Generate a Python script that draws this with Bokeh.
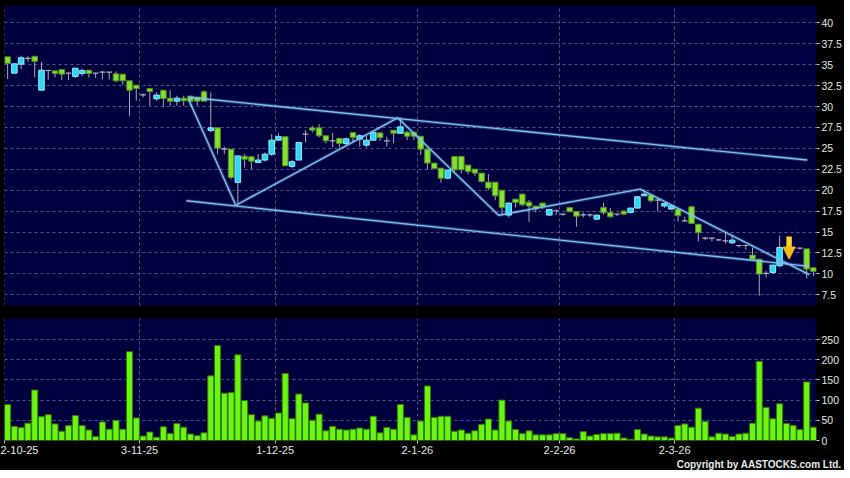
from bokeh.plotting import figure
from bokeh.layouts import column
from bokeh.models import (ColumnDataSource, Range1d, FixedTicker, Grid, Title,
                          NumeralTickFormatter, Arrow, NormalHead)
from bokeh.embed import file_html
from bokeh.resources import INLINE

# ---------------- data ----------------
opens = [35.94, 33.98, 35.06, 35.74, 36.0, 31.95, 34.3, 34.26, 34.42, 34.0,
         33.6, 33.94, 34.34, 34.0, 34.1, 34.1, 33.9, 33.86, 33.07, 32.55,
         31.4, 32.15, 30.92, 31.95, 31.0, 30.64, 31.0, 31.24, 31.12, 31.76,
         27.13, 27.45, 24.9, 24.9, 20.93, 24.06, 23.99, 23.3, 23.6, 24.3,
         25.98, 26.4, 22.84, 23.6, 26.7, 27.45, 27.45, 26.5, 25.9, 26.2,
         25.58, 26.9, 26.1, 25.38, 25.98, 26.85, 25.9, 27.17, 26.8, 26.93,
         26.93, 26.45, 24.9, 23.24, 22.64, 21.44, 24.03, 24.03, 23.0, 22.52,
         22.04, 20.96, 20.96, 20.0, 17.02, 18.93, 19.53, 18.57, 18.1, 18.46,
         17.02, 17.54, 17.14, 17.94, 17.46, 17.06, 17.06, 16.54, 17.94, 17.34,
         17.14, 17.5, 17.34, 17.86, 19.33, 19.41, 18.81, 18.1, 17.74, 17.74,
         16.34, 18.02, 15.94, 14.27, 14.27, 14.07, 13.95, 13.71, 13.39, 13.39,
         12.24, 11.76, 10.05, 10.17, 10.97, 13.15, 13.1, 13.07, 12.99, 10.73]
highs = [35.94, 35.1, 36.06, 36.0, 36.0, 35.34, 34.4, 34.26, 34.42, 34.02,
         34.6, 34.54, 34.34, 34.0, 34.26, 34.1, 34.18, 33.86, 33.07, 32.55,
         31.55, 32.15, 31.7, 31.95, 31.95, 31.28, 31.28, 31.24, 31.12, 31.95,
         31.67, 27.45, 25.2, 24.9, 24.1, 24.3, 24.1, 24.3, 24.5, 26.7,
         26.8, 26.4, 23.6, 25.7, 27.17, 27.7, 27.9, 26.5, 26.85, 26.2,
         26.3, 26.9, 26.7, 26.5, 27.0, 26.85, 26.4, 27.17, 28.7, 27.1,
         27.0, 26.45, 24.9, 23.24, 22.64, 22.4, 24.03, 24.03, 23.0, 22.52,
         22.04, 21.92, 20.96, 20.0, 18.5, 18.93, 19.53, 18.81, 18.1, 18.46,
         17.7, 17.7, 17.14, 17.94, 17.46, 17.34, 17.2, 17.02, 18.5, 17.86,
         17.14, 17.62, 17.9, 19.3, 20.1, 19.41, 19.05, 18.5, 18.2, 17.74,
         16.82, 18.14, 15.94, 14.43, 14.27, 14.2, 14.95, 14.55, 13.39, 13.39,
         13.15, 11.76, 10.37, 11.05, 14.55, 13.3, 13.2, 13.1, 12.99, 10.73]
lows = [33.27, 33.98, 34.46, 35.34, 33.5, 31.95, 33.2, 33.47, 33.15, 33.15,
        33.4, 33.63, 33.47, 33.4, 33.23, 33.23, 32.9, 32.6, 28.88, 30.68,
        31.08, 30.08, 30.68, 29.96, 30.08, 30.08, 30.08, 30.08, 30.1, 30.64,
        26.9, 24.3, 24.3, 21.3, 18.2, 22.7, 22.5, 23.3, 23.4, 24.1,
        25.9, 22.92, 22.6, 23.6, 25.7, 26.9, 26.3, 25.6, 25.1, 25.1,
        25.4, 25.7, 25.2, 25.1, 25.9, 25.9, 25.2, 25.6, 26.8, 25.98,
        25.98, 24.2, 22.5, 22.5, 20.9, 21.3, 22.24, 22.0, 21.92, 21.72,
        20.9, 20.0, 18.81, 17.02, 16.74, 17.94, 18.1, 16.22, 17.34, 17.74,
        16.94, 17.02, 16.9, 17.42, 15.63, 16.74, 16.8, 16.5, 17.06, 16.74,
        16.9, 17.0, 17.2, 17.86, 19.3, 18.53, 17.46, 17.9, 17.7, 16.26,
        16.26, 15.98, 13.87, 14.03, 13.87, 13.9, 13.63, 13.55, 13.15, 12.9,
        11.76, 7.38, 9.57, 9.97, 10.8, 13.0, 12.95, 12.9, 9.45, 9.77]
closes = [35.14, 35.1, 35.82, 35.74, 35.4, 34.34, 34.3, 33.94, 33.86, 34.0,
          34.58, 34.3, 33.94, 34.0, 34.1, 34.1, 33.07, 33.07, 31.95, 32.15,
          31.4, 31.8, 31.36, 30.96, 30.64, 31.0, 30.68, 30.64, 30.64, 30.64,
          27.45, 25.02, 24.9, 21.52, 24.1, 23.7, 23.47, 23.6, 24.3, 25.98,
          26.4, 22.92, 23.4, 25.7, 26.7, 27.17, 26.5, 25.9, 25.9, 25.58,
          26.14, 26.3, 26.5, 25.98, 26.9, 26.3, 25.9, 26.8, 27.57, 26.45,
          26.45, 24.9, 23.24, 22.6, 21.44, 22.4, 22.44, 22.44, 22.24, 22.04,
          21.04, 20.25, 19.33, 17.94, 18.46, 18.53, 18.26, 18.1, 17.82, 18.02,
          17.7, 17.54, 17.14, 17.42, 16.9, 17.06, 17.06, 17.02, 17.3, 16.82,
          17.14, 17.14, 17.86, 19.21, 19.53, 18.73, 18.81, 18.41, 18.14, 16.94,
          16.34, 16.02, 14.91, 14.27, 14.27, 14.07, 13.95, 14.03, 13.39, 13.39,
          11.76, 9.97, 10.05, 11.05, 13.15, 13.15, 13.1, 13.07, 10.57, 10.29]
volumes = [89, 35, 32, 43, 125, 59, 64, 41, 23, 37,
           62, 37, 26, 10, 46, 28, 50, 28, 220, 56,
           11, 21, 8, 34, 17, 42, 33, 16, 12, 19,
           160, 235, 117, 119, 212, 99, 64, 48, 61, 55,
           68, 166, 54, 115, 93, 50, 65, 24, 35, 28,
           26, 28, 31, 28, 60, 19, 32, 28, 89, 57,
           14, 48, 135, 57, 60, 60, 23, 26, 18, 24,
           40, 53, 26, 100, 48, 27, 17, 24, 14, 14,
           14, 17, 17, 7, 4, 22, 11, 15, 17, 17,
           18, 6, 3, 27, 16, 11, 9, 9, 6, 37,
           41, 33, 80, 47, 9, 18, 16, 10, 16, 18,
           43, 196, 82, 54, 91, 42, 37, 27, 145, 33]

date_tick_pos = [-0.45, 19.5, 39.5, 60.5, 81.5, 98.5]
date_tick_labels = ["2-10-25", "3-11-25", "1-12-25", "2-1-26", "2-2-26", "2-3-26"]
price_ticks = [7.5, 10, 12.5, 15, 17.5, 20, 22.5, 25, 27.5, 30, 32.5, 35, 37.5, 40]
volume_ticks = [0, 50, 100, 150, 200, 250]

# trend lines (bar index, price)
upper_x = [26.7, 118.1]
upper_y = [31.1, 23.6]
lower_x = [26.4, 118.4]
lower_y = [18.73, 10.9]
zig_x = [26.7, 33.7, 57.6, 72.5, 93.4, 118.4]
zig_y = [30.9, 18.2, 28.65, 17.0, 20.12, 9.9]

arrow_x = 115.4
arrow_top = 14.47
arrow_tip = 11.77

copyright_text = "Copyright by AASTOCKS.com Ltd."

# ---------------- styles ----------------
NAVY = "#00003f"
BLACK = "#000000"
GRID = "#55557f"
UP_FILL, UP_LINE = "#2fd8f2", "#8eeaff"
DN_FILL, DN_LINE = "#84e034", "#4f8f1f"
DOJI = "#b4b4b4"
WICK = "#a8a8b0"
VOL_FILL, VOL_LINE = "#6cf514", "#2f7a00"
TREND = "#7cc4f0"
FONT = "Liberation Sans"

n = len(opens)
idx = list(range(n))
up = [i for i in idx if closes[i] > opens[i]]
dn = [i for i in idx if closes[i] < opens[i]]
dj = [i for i in idx if closes[i] == opens[i]]


def body_src(sel):
    return ColumnDataSource(dict(
        x=sel,
        top=[max(opens[i], closes[i]) for i in sel],
        bottom=[min(opens[i], closes[i]) for i in sel]))


x_range = Range1d(-0.46, 119.45)


def style(p):
    p.background_fill_color = NAVY
    p.border_fill_color = BLACK
    p.outline_line_color = None
    p.grid.visible = False
    for ax in p.axis:
        ax.axis_line_color = None
        ax.major_tick_line_color = "#c8c8c8"
        ax.minor_tick_line_color = None
        ax.major_tick_in = 0
        ax.major_tick_out = 3
        ax.major_label_standoff = 2
        ax.major_label_text_color = "#e6e6e6"
        ax.major_label_text_font = FONT
        ax.major_label_text_font_size = "10.5px"


# ---------------- price panel ----------------
p1 = figure(frame_width=812, frame_height=300, x_range=x_range,
            y_range=Range1d(6.22, 42.07), x_axis_location=None,
            y_axis_location="right", toolbar_location=None,
            output_backend="svg", min_border_left=4, min_border_top=5,
            min_border_bottom=6, min_border_right=26)
style(p1)
p1.yaxis.ticker = FixedTicker(ticks=price_ticks)
p1.yaxis.formatter = NumeralTickFormatter(format="0.[0]")
p1.add_layout(Grid(dimension=1, ticker=FixedTicker(ticks=price_ticks),
                   grid_line_color=GRID, grid_line_dash="3 3"))
p1.add_layout(Grid(dimension=0, ticker=FixedTicker(ticks=date_tick_pos),
                   grid_line_color=GRID, grid_line_dash="3 3"))

p1.segment(x0=idx, y0=lows, x1=idx, y1=highs, line_color=WICK, line_width=1)
p1.vbar(x="x", top="top", bottom="bottom", width=0.82, source=body_src(dn),
        fill_color=DN_FILL, line_color=DN_LINE, line_width=1)
p1.vbar(x="x", top="top", bottom="bottom", width=0.82, source=body_src(up),
        fill_color=UP_FILL, line_color=UP_LINE, line_width=1)
p1.vbar(x="x", top="top", bottom="bottom", width=0.82, source=body_src(dj),
        fill_color=DOJI, line_color=DOJI, line_width=1.2)

for xs, ys in ((upper_x, upper_y), (lower_x, lower_y), (zig_x, zig_y)):
    p1.line(xs, ys, line_color=TREND, line_width=3.5, line_alpha=0.25)
    p1.line(xs, ys, line_color=TREND, line_width=1.4)

p1.add_layout(Arrow(end=NormalHead(size=12, fill_color="#f7b918",
                                   line_color="#f7b918"),
                    x_start=arrow_x, y_start=arrow_top,
                    x_end=arrow_x, y_end=arrow_tip,
                    line_color="#fcd22a", line_width=5.5))

# ---------------- volume panel ----------------
p2 = figure(frame_width=812, frame_height=122, x_range=x_range,
            y_range=Range1d(0, 302), y_axis_location="right",
            toolbar_location=None, output_backend="svg",
            min_border_left=4, min_border_top=7, min_border_bottom=30,
            min_border_right=26)
style(p2)
p2.xaxis.ticker = FixedTicker(ticks=date_tick_pos)
p2.xaxis.major_label_overrides = dict(zip(date_tick_pos, date_tick_labels))
p2.xaxis.major_tick_out = 3
p2.xaxis.major_label_standoff = 2
p2.xaxis.major_label_text_font_size = "11px"
p2.yaxis.ticker = FixedTicker(ticks=volume_ticks)
p2.add_layout(Grid(dimension=1, ticker=FixedTicker(ticks=volume_ticks),
                   grid_line_color=GRID, grid_line_dash="3 3"))
p2.add_layout(Grid(dimension=0, ticker=FixedTicker(ticks=date_tick_pos),
                   grid_line_color=GRID, grid_line_dash="3 3"))
p2.vbar(x=idx, top=volumes, bottom=0, width=0.9, fill_color=VOL_FILL,
        line_color=VOL_LINE, line_width=1)

p2.add_layout(Title(text=copyright_text, align="right", text_color="#e8e8e8",
                    text_font=FONT, text_font_size="10px",
                    text_font_style="bold", standoff=0, offset=-25), "below")

layout = column(p1, p2, spacing=0, styles={"background-color": BLACK})
open("out.html", "w").write(file_html(layout, INLINE))
